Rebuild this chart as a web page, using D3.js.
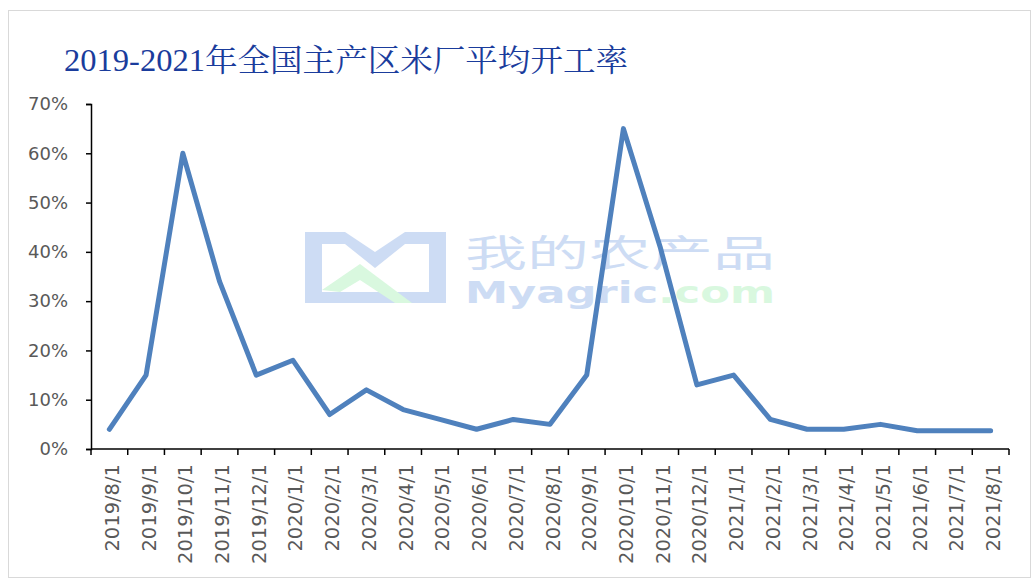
<!DOCTYPE html>
<html>
<head>
<meta charset="utf-8">
<script src="https://cdn.jsdelivr.net/npm/d3@7"></script>
<style>
  body { margin: 0; background: #fff; }
  #chart svg { display: block; }
</style>
</head>
<body>
<div id="chart"></div>
<script>
// months on the category axis
var months = ["2019/8/1","2019/9/1","2019/10/1","2019/11/1","2019/12/1",
	"2020/1/1","2020/2/1","2020/3/1","2020/4/1","2020/5/1","2020/6/1","2020/7/1","2020/8/1",
	"2020/9/1","2020/10/1","2020/11/1","2020/12/1",
	"2021/1/1","2021/2/1","2021/3/1","2021/4/1","2021/5/1","2021/6/1","2021/7/1","2021/8/1"];

// average operating rate (fraction)
var rates = [0.04,0.15,0.60,0.34,0.15,
	0.18,0.07,0.12,0.08,0.06,0.04,0.06,0.05,
	0.15,0.65,0.41,0.13,
	0.15,0.06,0.04,0.04,0.05,0.037,0.037,0.037];

var yTicks = [0,0.1,0.2,0.3,0.4,0.5,0.6,0.7];

var width = 1033, height = 580;
var margin = {top: 104, right: 24, bottom: 131, left: 91};
var w = width - margin.left - margin.right,
	h = height - margin.top - margin.bottom;

var svg = d3.select("#chart").append("svg")
	.attr("width", width)
	.attr("height", height);

// outer frame
svg.append("rect")
	.attr("x", 8.5).attr("y", 10.5)
	.attr("width", 1022).attr("height", 567)
	.attr("fill", "#fff")
	.attr("stroke", "#d9d9d9");

svg.append("text")
	.attr("x", 64)
	.attr("y", 71)
	.attr("fill", "#1a3c9c")
	.attr("font-family", "'Liberation Serif', 'Noto Serif CJK SC', 'Noto Sans CJK SC', serif")
	.attr("font-size", 31)
	.attr("textLength", 564)
	.attr("lengthAdjust", "spacingAndGlyphs")
	.text("2019-2021年全国主产区米厂平均开工率");

// watermark
var wm = svg.append("g");
wm.append("path")
	.attr("d", "M305,232 L345,232 L375,252 L405,232 L446,232 L446,303 L305,303 Z M322,244 L322,292 L429,292 L429,244 L405,244 L375,268 L345,244 Z")
	.attr("fill", "#cddcf4")
	.attr("fill-rule", "evenodd");
wm.append("path")
	.attr("d", "M322,290 L360,264 L412,303 L395,303 L360,280 L340,292 Z")
	.attr("fill", "#d9f8df");
wm.append("text")
	.attr("x", 465).attr("y", 267)
	.attr("fill", "#cddcf4")
	.attr("font-family", "'Noto Sans CJK SC', sans-serif")
	.attr("font-size", 37)
	.attr("textLength", 310)
	.attr("lengthAdjust", "spacingAndGlyphs")
	.text("我的农产品");
wm.append("text")
	.attr("x", 465).attr("y", 303)
	.attr("fill", "#cddcf4")
	.attr("font-family", "'DejaVu Sans', sans-serif")
	.attr("font-weight", "bold")
	.attr("font-size", 31)
	.attr("textLength", 310)
	.attr("lengthAdjust", "spacingAndGlyphs")
	.text("Myagric")
	.append("tspan")
	.attr("fill", "#d9f8df")
	.text(".com");

var g = svg.append("g")
	.attr("transform", "translate(" + margin.left + "," + margin.top + ")");

var x = d3.scaleBand()
	.domain(months)
	.range([0, w]);

var y = d3.scaleLinear()
	.domain([0, 0.7])
	.range([h, 0]);

var yAxis = d3.axisLeft(y)
	.tickValues(yTicks)
	.tickSize(5)
	.tickPadding(8)
	.tickFormat(d3.format(".0%"));

var yg = g.append("g").call(yAxis);
yg.select(".domain").attr("stroke", "#000").attr("stroke-width", 1.5);
yg.selectAll(".tick line").attr("stroke", "#000").attr("stroke-width", 1.5);
yg.selectAll("text")
	.attr("fill", "#595959")
	.attr("font-family", "'DejaVu Sans', sans-serif")
	.attr("font-size", 18)
	.attr("dx", "-10");

// category axis: ticks between categories
var xg = g.append("g").attr("transform", "translate(0," + h + ")");
xg.append("line")
	.attr("x1", 0).attr("x2", w)
	.attr("stroke", "#000").attr("stroke-width", 1.5);
xg.selectAll("line.tk")
	.data(months.concat(["end"]))
	.enter().append("line")
	.attr("class", "tk")
	.attr("x1", function(d, i) { return i * x.step(); })
	.attr("x2", function(d, i) { return i * x.step(); })
	.attr("y1", 0).attr("y2", 6)
	.attr("stroke", "#000").attr("stroke-width", 1.5);
xg.selectAll("text")
	.data(months)
	.enter().append("text")
	.attr("transform", function(d) {
		return "translate(" + (x(d) + x.bandwidth() / 2 + 9.5) + ",15) rotate(-90)";
	})
	.attr("text-anchor", "end")
	.attr("fill", "#595959")
	.attr("font-family", "'DejaVu Sans', sans-serif")
	.attr("font-size", 19.5)
	.text(function(d) { return d; });

var line = d3.line()
	.x(function(d, i) { return x(months[i]) + x.bandwidth() / 2; })
	.y(function(d) { return y(d); });

g.append("path")
	.datum(rates)
	.attr("d", line)
	.attr("fill", "none")
	.attr("stroke", "#4f81bd")
	.attr("stroke-width", 5)
	.attr("stroke-linejoin", "round")
	.attr("stroke-linecap", "round");
</script>
</body>
</html>
